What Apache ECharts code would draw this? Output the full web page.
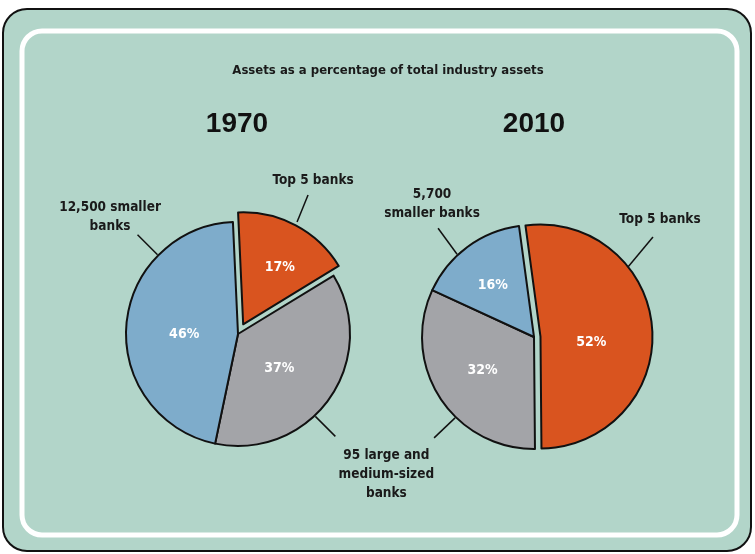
<!DOCTYPE html>
<html><head><meta charset="utf-8">
<script src="https://cdn.jsdelivr.net/npm/echarts@6/dist/echarts.min.js"></script>
<style>html,body{margin:0;padding:0;background:#fff}#c{width:755px;height:554px}</style>
</head><body><div id="c"></div>
<script>
// ---- data ----
const chartTitle = 'Assets as a percentage of total industry assets';
const years = ['1970', '2010'];
const categories1970 = ['Top 5 banks', '95 large and\nmedium-sized\nbanks', '12,500 smaller\nbanks'];
const values1970 = [17, 37, 46];
const categories2010 = ['Top 5 banks', '95 large and\nmedium-sized\nbanks', '5,700\nsmaller banks'];
const values2010 = [52, 32, 16];
const sliceColors = ['#d9541f', '#a3a4a8', '#7eaccb'];

// ---- layout / style ----
const condensed = '"Liberation Sans Narrow", "DejaVu Sans Condensed", "Roboto", sans-serif';
const pie1970 = { cx: 238, cy: 334, r: 112, start: 92.6, offset: 11 };
const pie2010 = { cx: 534, cy: 337, r: 112, start: 97.7, offset: 6.5 };
// nudges for the inner percentage labels
const inner1970 = [[9, -5], [-7, 0], [5, 5]];
const inner2010 = [[-8, 10], [-2, 1], [-6, -4]];
// leader line specs per slice: start angle/radius, line vector, label offset from line end
const leaders1970 = [
  { a: 62.2, r: 126.6, vx: 11, vy: -27, dx: 5, dy: -5, va: 'bottom' },
  { a: -46.8, r: 113, vx: 20, vy: 20, dx: 51, dy: 10, va: 'top' },
  { a: 135.4, r: 113, vx: -20, vy: -20, dx: -27.5, dy: 1, va: 'bottom' }
];
const leaders2010 = [
  { a: 36.7, r: 117.2, vx: 25, vy: -30, dx: 7, dy: -8, va: 'bottom' },
  { a: -134.3, r: 113, vx: -21, vy: 20, dx: 0, dy: 0, va: 'top', hideText: true },
  { a: 132.9, r: 113, vx: -19, vy: -26, dx: -6, dy: -5, va: 'bottom' }
];

function leaderLayout(pie, specs) {
  return function (p) {
    const s = specs[p.dataIndex];
    const rad = s.a * Math.PI / 180;
    const sx = pie.cx + s.r * Math.cos(rad);
    const sy = pie.cy - s.r * Math.sin(rad);
    const ex = sx + s.vx, ey = sy + s.vy;
    return {
      x: ex + s.dx, y: ey + s.dy, align: 'center', verticalAlign: s.va,
      labelLinePoints: [[sx, sy], [ex, ey], [ex, ey]]
    };
  };
}

// shift a centred inner label using rich-text padding (works for selected slices too)
function nudgeRich(n) {
  const nx = n[0], ny = n[1];
  return { p: { padding: [Math.max(2 * ny, 0), Math.max(-2 * nx, 0), Math.max(-2 * ny, 0), Math.max(2 * nx, 0)] } };
}

function mainSeries(pie, cats, vals, nudges) {
  return {
    type: 'pie', center: [pie.cx, pie.cy], radius: pie.r, startAngle: pie.start,
    clockwise: true, selectedMode: 'single', selectedOffset: pie.offset,
    avoidLabelOverlap: false, animation: false, silent: true,
    emphasis: { disabled: true },
    itemStyle: { borderColor: '#111', borderWidth: 2 },
    label: { show: true, position: 'inside', formatter: '{p|{c}%}', color: '#fff',
      fontFamily: condensed, fontWeight: 'bold', fontSize: 14 },
    labelLine: { show: false },
    data: vals.map((v, i) => ({ name: cats[i], value: v, selected: i === 0,
      itemStyle: { color: sliceColors[i] },
      label: { rich: nudgeRich(nudges[i]) } }))
  };
}

function labelSeries(pie, cats, vals, specs) {
  return {
    type: 'pie', center: [pie.cx, pie.cy], radius: pie.r, startAngle: pie.start,
    clockwise: true, avoidLabelOverlap: false, animation: false, silent: true,
    emphasis: { disabled: true },
    itemStyle: { color: 'rgba(0,0,0,0)', borderWidth: 0 },
    label: { show: true, position: 'outside', color: '#1a1a1a', fontFamily: condensed,
      fontWeight: 'bold', fontSize: 13.5, lineHeight: 19,
      formatter: (p) => specs[p.dataIndex].hideText ? ' ' : p.name },
    labelLine: { show: true, length: 20, length2: 0, lineStyle: { color: '#111', width: 1.5 } },
    labelLayout: leaderLayout(pie, specs),
    data: vals.map((v, i) => ({ name: cats[i], value: v }))
  };
}

const chart = echarts.init(document.getElementById('c'), null, { renderer: 'canvas' });
chart.setOption({
  backgroundColor: '#fff',
  animation: false,
  graphic: [
    { type: 'rect', z: -10, shape: { x: 3, y: 9, width: 748, height: 542, r: 24 },
      style: { fill: '#b2d5c9', stroke: '#111', lineWidth: 2 } },
    { type: 'rect', z: -9, shape: { x: 22, y: 31, width: 715, height: 504, r: 20 },
      style: { fill: 'none', stroke: '#fff', lineWidth: 5 } }
  ],
  title: [
    { text: chartTitle, left: 388, top: 64, textAlign: 'center', padding: 0,
      textStyle: { fontFamily: condensed, fontWeight: 'bold', fontSize: 13, color: '#1a1a1a' } },
    { text: years[0], left: 237, top: 110, textAlign: 'center', padding: 0,
      textStyle: { fontFamily: '"Liberation Sans", Arial, sans-serif', fontWeight: 'bold', fontSize: 28, color: '#111' } },
    { text: years[1], left: 534, top: 110, textAlign: 'center', padding: 0,
      textStyle: { fontFamily: '"Liberation Sans", Arial, sans-serif', fontWeight: 'bold', fontSize: 28, color: '#111' } }
  ],
  series: [
    labelSeries(pie1970, categories1970, values1970, leaders1970),
    labelSeries(pie2010, categories2010, values2010, leaders2010),
    mainSeries(pie1970, categories1970, values1970, inner1970),
    mainSeries(pie2010, categories2010, values2010, inner2010)
  ]
});
</script></body></html>
